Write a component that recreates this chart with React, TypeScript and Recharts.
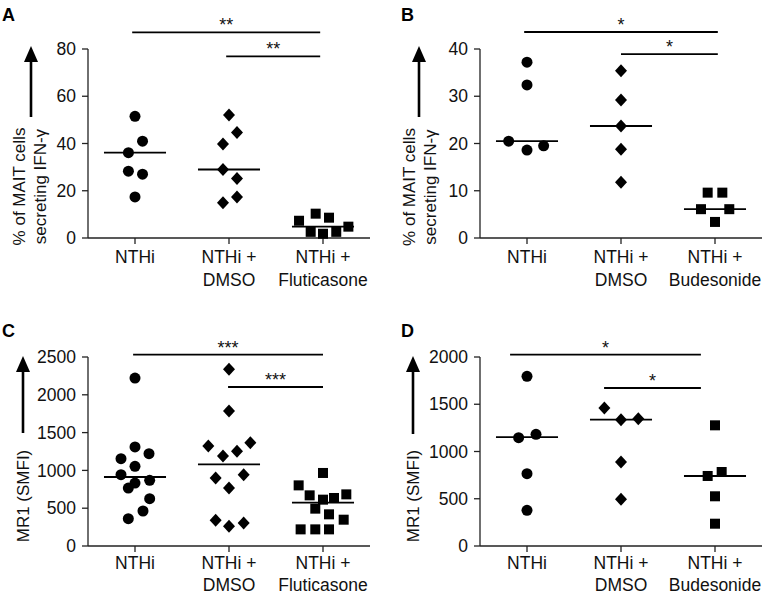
import React from "react";
import { ScatterChart, Scatter, XAxis, YAxis, ReferenceLine } from "recharts";

const FONT = "'Liberation Sans', Arial, Helvetica, sans-serif";

// group labels
const groupsFlu = ["NTHi", "NTHi +\nDMSO", "NTHi +\nFluticasone"];
const groupsBud = ["NTHi", "NTHi +\nDMSO", "NTHi +\nBudesonide"];

// A: % of MAIT cells secreting IFN-γ, fluticasone
const aNthi = [51.5, 41, 36.1, 28.3, 27, 17.4];
const aNthiJit = [0, 0.08, -0.07, -0.07, 0.08, 0];
const aDmso = [52.1, 44.7, 39.8, 29, 25.2, 17.4, 14.9];
const aDmsoJit = [0, 0.085, -0.064, -0.064, 0.085, 0.085, -0.064];
const aFlu = [7.3, 10.3, 8.6, 4.8, 2.6, 1.8, 2.6];
const aFluJit = [-0.255, -0.078, 0.064, 0.27, -0.131, 0, 0.141];
const aMedians = [36.1, 29, 4.8];

// B: % of MAIT cells secreting IFN-γ, budesonide
const bNthi = [37.2, 32.4, 20.5, 18.6, 19.5];
const bNthiJit = [0, 0, -0.195, 0, 0.177];
const bDmso = [35.4, 29.2, 23.7, 18.8, 11.8];
const bDmsoJit = [0, 0, 0, 0, 0];
const bBud = [9.6, 9.6, 6.1, 6.1, 3.4];
const bBudJit = [-0.078, 0.078, -0.149, 0.152, 0];
const bMedians = [20.5, 23.7, 6.1];

// C: MR1 (SMFI), fluticasone
const cNthi = [2222, 1310, 1221, 1155, 1054, 944, 869, 833, 767, 626, 463, 362];
const cNthiJit = [0, 0, 0.149, -0.149, 0, -0.149, 0.156, 0, -0.071, 0.156, 0.085, -0.071];
const cDmso = [2337, 1786, 1367, 1323, 1252, 1190, 944, 900, 767, 340, 304, 260];
const cDmsoJit = [0, 0, 0.227, -0.22, 0.085, -0.064, 0.156, -0.142, 0, -0.142, 0.156, 0];
const cFlu = [966, 802, 683, 670, 635, 613, 494, 419, 348, 220, 220, 220];
const cFluJit = [0, -0.259, 0.248, -0.142, 0.117, 0, -0.082, 0.064, 0.22, -0.238, -0.082, 0.064];
const cMedians = [913, 1080, 573];

// D: MR1 (SMFI), budesonide
const dNthi = [1795, 1146, 1182, 765, 377];
const dNthiJit = [0, -0.089, 0.096, 0, 0];
const dDmso = [1460, 1337, 1347, 889, 494];
const dDmsoJit = [-0.177, 0, 0.184, 0, 0];
const dBud = [1277, 783, 741, 526, 236];
const dBudJit = [0, 0.071, -0.078, 0, 0];
const dMedians = [1153, 1337, 741];

// significance brackets [x1, x2, y, stars]
const aBrackets: [number, number, number, string][] = [
  [0.97, 2.97, 87, "**"],
  [1.97, 2.97, 76.9, "**"],
];
const bBrackets: [number, number, number, string][] = [
  [0.97, 3.03, 43.6, "*"],
  [2.0, 3.03, 38.9, "*"],
];
const cBrackets: [number, number, number, string][] = [
  [0.98, 3.0, 2532, "***"],
  [1.99, 3.0, 2103, "***"],
];
const dBrackets: [number, number, number, string][] = [
  [0.82, 2.85, 2025, "*"],
  [1.82, 2.85, 1672, "*"],
];

const toPts = (vals: number[], jit: number[], g: number) =>
  vals.map((v, i) => ({ x: g + jit[i], y: v }));

const Dot = (p: any) => <circle cx={p.cx} cy={p.cy} r={5.5} fill="#000" />;
const Diamond = (p: any) => (
  <path
    d={`M${p.cx},${p.cy - 6.5}L${p.cx + 6},${p.cy}L${p.cx},${p.cy + 6.5}L${p.cx - 6},${p.cy}Z`}
    fill="#000"
  />
);
const Square = (p: any) => (
  <rect x={p.cx - 5} y={p.cy - 5} width={10} height={10} fill="#000" />
);

function GroupTick(props: any) {
  const { x, y, payload, labels, lineGap } = props;
  const lines: string[] = labels[Math.round(payload.value) - 1].split("\n");
  return (
    <text x={x} y={y} textAnchor="middle" fontSize={17.5} fill="#111" fontFamily={FONT}>
      {lines.map((l, i) => (
        <tspan key={i} x={x} dy={i === 0 ? "0.71em" : lineGap}>
          {l}
        </tspan>
      ))}
    </text>
  );
}

interface PanelProps {
  left: number;
  top: number;
  height: number;
  xAxisH: number;
  tickGap: number;
  lineGap: number;
  labels: string[];
  groups: { vals: number[]; jit: number[] }[];
  medians: number[];
  yMax: number;
  yTicks: number[];
  brackets: [number, number, number, string][];
}

const shapes = [Dot, Diamond, Square];

function Panel({ left, top, height, xAxisH, tickGap, lineGap, labels, groups, medians, yMax, yTicks, brackets }: PanelProps) {
  return (
    <div style={{ position: "absolute", left, top }}>
      <ScatterChart
        width={380}
        height={height}
        margin={{ top: 49, right: 10, bottom: 0, left: 26 }}
      >
        <XAxis
          type="number"
          dataKey="x"
          domain={[0.5, 3.5]}
          ticks={[1, 2, 3]}
          interval={0}
          height={xAxisH}
          tickSize={6}
          tickMargin={tickGap}
          axisLine={{ stroke: "#222", strokeWidth: 1.3 }}
          tickLine={{ stroke: "#222", strokeWidth: 1.3 }}
          tick={<GroupTick labels={labels} lineGap={lineGap} />}
        />
        <YAxis
          type="number"
          dataKey="y"
          domain={[0, yMax]}
          ticks={yTicks}
          interval={0}
          width={62}
          tickSize={6}
          tickMargin={6}
          axisLine={{ stroke: "#222", strokeWidth: 1.3 }}
          tickLine={{ stroke: "#222", strokeWidth: 1.3 }}
          tick={{ fontSize: 17.5, fill: "#111", fontFamily: FONT }}
        />
        {groups.map((g, i) => (
          <Scatter
            key={i}
            data={toPts(g.vals, g.jit, i + 1)}
            shape={shapes[i]}
            isAnimationActive={false}
          />
        ))}
        {medians.map((m, i) => (
          <ReferenceLine
            key={"m" + i}
            segment={[
              { x: i + 1 - 0.33, y: m },
              { x: i + 1 + 0.33, y: m },
            ]}
            stroke="#000"
            strokeWidth={1.8}
            ifOverflow="visible"
          />
        ))}
        {brackets.map(([x1, x2, y, s], i) => (
          <ReferenceLine
            key={"b" + i}
            segment={[
              { x: x1, y },
              { x: x2, y },
            ]}
            stroke="#000"
            strokeWidth={1.8}
            ifOverflow="visible"
            label={{ value: s, position: "top", offset: 1, fontSize: 18, fill: "#111", fontFamily: FONT }}
          />
        ))}
      </ScatterChart>
    </div>
  );
}

function Arrow({ x, tip, bottom }: { x: number; tip: number; bottom: number }) {
  return (
    <g>
      <line x1={x} y1={bottom} x2={x} y2={tip + 10} stroke="#000" strokeWidth={2.6} />
      <polygon points={`${x},${tip} ${x - 7},${tip + 16} ${x + 7},${tip + 16}`} fill="#000" />
    </g>
  );
}

function Overlay() {
  const t = { fontSize: 17, fill: "#111", fontFamily: FONT, textAnchor: "middle" as const };
  const letter = { fontSize: 18, fontWeight: 700, fill: "#000", fontFamily: FONT };
  return (
    <svg
      width={765}
      height={596}
      style={{ position: "absolute", left: 0, top: 0, pointerEvents: "none" }}
    >
      <text x={2} y={21} {...letter}>A</text>
      <text x={401} y={21} {...letter}>B</text>
      <text x={2} y={337} {...letter}>C</text>
      <text x={401} y={337} {...letter}>D</text>

      <Arrow x={31} tip={46} bottom={117} />
      <Arrow x={419} tip={46} bottom={117} />
      <Arrow x={23} tip={356} bottom={433} />
      <Arrow x={413} tip={356} bottom={434} />

      <text transform="translate(25,186.5) rotate(-90)" {...t}>% of MAIT cells</text>
      <text transform="translate(46,186.5) rotate(-90)" {...t}>secreting IFN-γ</text>
      <text transform="translate(415,187) rotate(-90)" {...t}>% of MAIT cells</text>
      <text transform="translate(436,187) rotate(-90)" {...t}>secreting IFN-γ</text>
      <text transform="translate(29,496) rotate(-90)" {...t}>MR1 (SMFI)</text>
      <text transform="translate(419,496) rotate(-90)" {...t}>MR1 (SMFI)</text>
    </svg>
  );
}

export default function App() {
  return (
    <div
      style={{
        position: "absolute",
        left: 0,
        top: 0,
        width: 765,
        height: 596,
        overflow: "hidden",
        background: "#fff",
        fontFamily: FONT,
      }}
    >
      <Panel
        left={0}
        top={0}
        height={295}
        xAxisH={57}
        tickGap={7}
        lineGap={23}
        labels={groupsFlu}
        groups={[
          { vals: aNthi, jit: aNthiJit },
          { vals: aDmso, jit: aDmsoJit },
          { vals: aFlu, jit: aFluJit },
        ]}
        medians={aMedians}
        yMax={80}
        yTicks={[0, 20, 40, 60, 80]}
        brackets={aBrackets}
      />
      <Panel
        left={392}
        top={0}
        height={295}
        xAxisH={57}
        tickGap={7}
        lineGap={23}
        labels={groupsBud}
        groups={[
          { vals: bNthi, jit: bNthiJit },
          { vals: bDmso, jit: bDmsoJit },
          { vals: bBud, jit: bBudJit },
        ]}
        medians={bMedians}
        yMax={40}
        yTicks={[0, 10, 20, 30, 40]}
        brackets={bBrackets}
      />
      <Panel
        left={0}
        top={308}
        height={288}
        xAxisH={50}
        tickGap={5}
        lineGap={21.5}
        labels={groupsFlu}
        groups={[
          { vals: cNthi, jit: cNthiJit },
          { vals: cDmso, jit: cDmsoJit },
          { vals: cFlu, jit: cFluJit },
        ]}
        medians={cMedians}
        yMax={2500}
        yTicks={[0, 500, 1000, 1500, 2000, 2500]}
        brackets={cBrackets}
      />
      <Panel
        left={392}
        top={308}
        height={288}
        xAxisH={50}
        tickGap={5}
        lineGap={21.5}
        labels={groupsBud}
        groups={[
          { vals: dNthi, jit: dNthiJit },
          { vals: dDmso, jit: dDmsoJit },
          { vals: dBud, jit: dBudJit },
        ]}
        medians={dMedians}
        yMax={2000}
        yTicks={[0, 500, 1000, 1500, 2000]}
        brackets={dBrackets}
      />
      <Overlay />
    </div>
  );
}
